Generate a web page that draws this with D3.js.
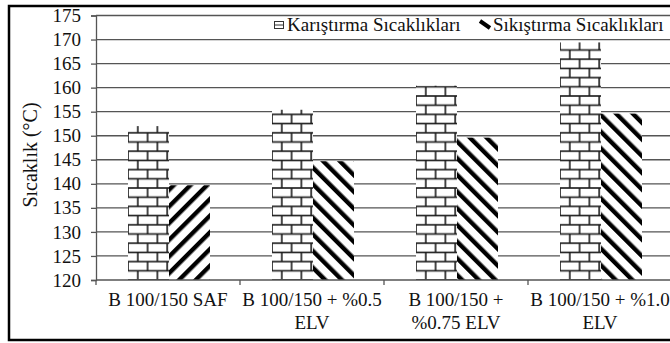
<!DOCTYPE html>
<html><head><meta charset="utf-8">
<script src="https://cdn.jsdelivr.net/npm/d3@7"></script>
<style>body{margin:0;background:#fff}svg{display:block}svg text{font-family:"Liberation Serif","Times New Roman",Times,"DejaVu Serif",serif !important;fill:#111}</style>
</head><body><svg id="c" width="670" height="343" font-family="Liberation Serif, Times New Roman, serif"></svg>
<script>
const categories = [["B 100/150 SAF"], ["B 100/150 + %0.5", "ELV"], ["B 100/150 +", "%0.75 ELV"], ["B 100/150 + %1.0", "ELV"]];
const seriesNames = ["Karıştırma Sıcaklıkları", "Sıkıştırma Sıcaklıkları"];
const karistirma = [152.0, 155.4, 160.4, 169.4];
const sikistirma = [139.7, 144.7, 149.6, 154.6];
const hatchDir = ["/", "\\", "\\", "\\"];
const yTicks = [120, 125, 130, 135, 140, 145, 150, 155, 160, 165, 170, 175];
const yTitle = "Sıcaklık (°C)";

const FONT = '"Liberation Serif","Times New Roman",Times,serif';
const FS = 19;
const svg = d3.select("#c");
const defs = svg.append("defs");
const L = 96, R = 672, T = 15.5, B = 280;
const catKeys = categories.map((c, i) => i);
const x0 = d3.scaleBand().domain(catKeys).range([L, R]);
const x1 = d3.scaleBand().domain([0, 1]).range([32, 114]);
const y = d3.scaleLinear().domain([120, 175]).range([B, T]);

// outer frame
svg.append("rect").attr("x", 9).attr("y", 6).attr("width", 680).attr("height", 334)
  .attr("fill", "none").attr("stroke", "#000").attr("stroke-width", 2.5);

// gridlines
svg.append("g").selectAll("line").data(yTicks.filter(t => t > 120)).join("line")
  .attr("x1", L).attr("x2", R).attr("y1", d => y(d)).attr("y2", d => y(d))
  .attr("stroke", "#555").attr("stroke-width", 1.3);

// y axis
const yAxis = d3.axisLeft(y).tickValues(yTicks).tickSize(5).tickPadding(10);
const gy = svg.append("g").attr("transform", `translate(${L},0)`).call(yAxis)
  .attr("font-family", FONT).attr("font-size", FS);
gy.select(".domain").attr("stroke", "#555").attr("stroke-width", 1.3);
gy.selectAll(".tick line").attr("stroke", "#555").attr("stroke-width", 1.3);
gy.selectAll("text").attr("font-family", FONT).attr("font-size", FS).attr("fill", "#111");

// patterns
const brickW = 19.6, brickH = 9.2;
function brickPattern(id, px, py) {
  const p = defs.append("pattern").attr("id", id).attr("patternUnits", "userSpaceOnUse")
    .attr("x", px).attr("y", py).attr("width", brickW).attr("height", brickH * 2);
  p.append("rect").attr("width", brickW).attr("height", brickH * 2).attr("fill", "#fff");
  const s = "#1a1a1a", w = 1.6;
  [0, brickH, brickH * 2].forEach(yy => p.append("line").attr("x1", 0).attr("x2", brickW).attr("y1", yy).attr("y2", yy).attr("stroke", s).attr("stroke-width", w));
  p.append("line").attr("x1", 2).attr("x2", 2).attr("y1", 0).attr("y2", brickH).attr("stroke", s).attr("stroke-width", w);
  p.append("line").attr("x1", 2 + brickW / 2).attr("x2", 2 + brickW / 2).attr("y1", brickH).attr("y2", brickH * 2).attr("stroke", s).attr("stroke-width", w);
}
function hatchPattern(id, dir, px, py) {
  const p = defs.append("pattern").attr("id", id).attr("patternUnits", "userSpaceOnUse")
    .attr("x", px).attr("y", py).attr("width", 11.8).attr("height", 11.8)
    .attr("patternTransform", `rotate(${dir === "/" ? 45 : -45})`);
  p.append("rect").attr("width", 11.8).attr("height", 11.8).attr("fill", "#fff");
  p.append("rect").attr("x", 0).attr("width", 4.4).attr("height", 11.8).attr("fill", "#000");
}

const bars = svg.append("g");
categories.forEach((c, i) => {
  brickPattern("brick" + i, x0(i) + x1(0) - 2, B);
  hatchPattern("hatch" + i, hatchDir[i], x0(i) + x1(1), B);
});
bars.selectAll("rect.k").data(karistirma).join("rect").attr("class", "k")
  .attr("x", (d, i) => x0(i) + x1(0)).attr("width", x1.bandwidth())
  .attr("y", d => y(d)).attr("height", d => B - y(d))
  .attr("fill", (d, i) => `url(#brick${i})`);
bars.selectAll("rect.s").data(sikistirma).join("rect").attr("class", "s")
  .attr("x", (d, i) => x0(i) + x1(1)).attr("width", x1.bandwidth())
  .attr("y", d => y(d)).attr("height", d => B - y(d))
  .attr("fill", (d, i) => `url(#hatch${i})`);

// x axis
const gx = svg.append("g");
gx.append("line").attr("x1", L).attr("x2", R).attr("y1", B).attr("y2", B).attr("stroke", "#555").attr("stroke-width", 1.3);
gx.selectAll("line.t").data(d3.range(categories.length + 1)).join("line").attr("class", "t")
  .attr("x1", d => L + d * x0.step()).attr("x2", d => L + d * x0.step())
  .attr("y1", B).attr("y2", B + 5).attr("stroke", "#555").attr("stroke-width", 1.3);
const lbl = gx.selectAll("text").data(categories).join("text")
  .attr("text-anchor", "middle").attr("font-family", FONT).attr("font-size", FS)
  .attr("transform", (d, i) => `translate(${x0(i) + x0.bandwidth() / 2},306)`);
lbl.selectAll("tspan").data(d => d).join("tspan").attr("x", 0).attr("y", (d, j) => j * 23).text(d => d);

// y title
svg.append("text").attr("transform", "translate(37,155) rotate(-90)")
  .attr("text-anchor", "middle").attr("font-family", FONT).attr("font-size", 20).text(yTitle);

// legend
const lg = svg.append("g");
lg.append("rect").attr("x", 274.5).attr("y", 21.5).attr("width", 9).attr("height", 7).attr("fill", "#fff").attr("stroke", "#333").attr("stroke-width", 1);
lg.append("line").attr("x1", 275).attr("x2", 283).attr("y1", 25).attr("y2", 25).attr("stroke", "#333").attr("stroke-width", 1);
lg.append("text").attr("x", 287).attr("y", 31).attr("font-family", FONT).attr("font-size", FS).text(seriesNames[0]);
lg.append("line").attr("x1", 480).attr("x2", 490).attr("y1", 21).attr("y2", 28).attr("stroke", "#000").attr("stroke-width", 4);
lg.append("text").attr("x", 493).attr("y", 31).attr("font-family", FONT).attr("font-size", FS).text(seriesNames[1]);
</script></body></html>
